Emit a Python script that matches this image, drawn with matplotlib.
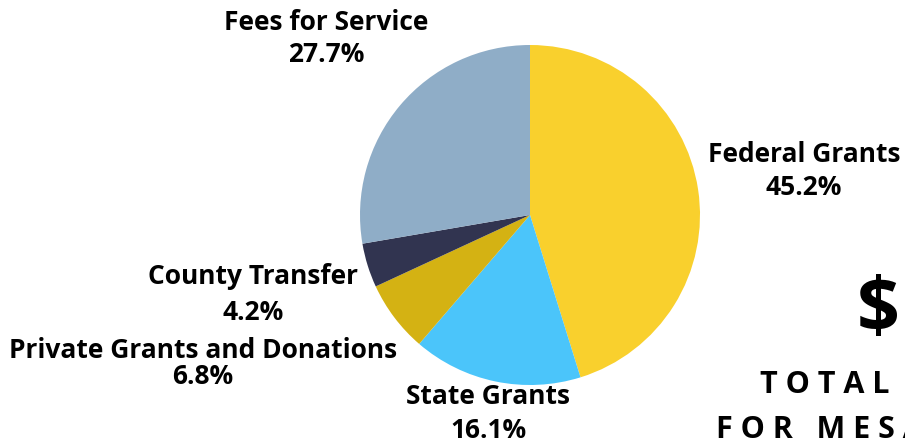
import matplotlib.pyplot as plt

# Revenue shares
categories = ['Federal Grants', 'State Grants', 'Private Grants and Donations',
              'County Transfer', 'Fees for Service']
shares = [45.2, 16.1, 6.8, 4.2, 27.7]
colors = ['#F9D02D', '#4BC5FA', '#D4B213', '#313450', '#8FADC7']

plt.rcParams['font.family'] = ['Open Sans', 'DejaVu Sans']

fig = plt.figure(figsize=(9.05, 4.42), dpi=100)
ax = fig.add_axes([360 / 905, 57 / 442, 340 / 905, 340 / 442])
ax.pie(shares, colors=colors, startangle=90, counterclock=False,
       wedgeprops=dict(linewidth=0))
ax.set_xlim(-1, 1)
ax.set_ylim(-1, 1)
ax.set_aspect('equal')

# label positions in figure pixels (x center, y of name, y of percent)
label_pos = {
    'Federal Grants': (804, 155, 187),
    'State Grants': (488, 397, 430),
    'Private Grants and Donations': (203, 350, 377),
    'County Transfer': (253, 277, 313),
    'Fees for Service': (326, 22, 55),
}
for cat, val in zip(categories, shares):
    x, y1, y2 = label_pos[cat]
    fig.text(x / 905, 1 - y1 / 442, cat, ha='center', va='center',
             fontsize=19, fontweight='bold')
    fig.text(x / 905, 1 - y2 / 442, f'{val}%', ha='center', va='center',
             fontsize=19, fontweight='bold')

# partially visible headline on the right
fig.text(857 / 905, 1 - 312 / 442, '$', ha='left', va='center',
         fontsize=54, fontweight='bold')
fig.text(760 / 905, 1 - 385 / 442, 'T O T A L', ha='left', va='center',
         fontsize=22, fontweight='bold')
fig.text(716 / 905, 1 - 430 / 442, 'F O R   M E S A', ha='left', va='center',
         fontsize=22, fontweight='bold')

fig.savefig('out.png', dpi=100)
